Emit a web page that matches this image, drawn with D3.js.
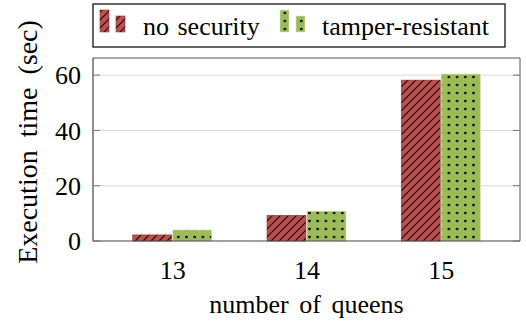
<!DOCTYPE html>
<html>
<head>
<meta charset="utf-8">
<script src="https://cdn.jsdelivr.net/npm/d3@7"></script>
<style>
  html, body { margin: 0; padding: 0; background: #fff; }
</style>
</head>
<body>
<svg id="chart" width="526" height="324"></svg>
<script>
// Execution time per board size, with and without tamper resistance
const queens = [13, 14, 15];
const noSecurity = [2.2, 9.3, 58.2];
const tamperResistant = [4.0, 10.8, 60.4];
const yTicks = [0, 20, 40, 60];
const seriesNames = ["no security", "tamper-resistant"];

const FONT = "'Liberation Serif'";
const FS = 26;
const svg = d3.select("#chart");
const plot = { left: 93, right: 520, top: 58, bottom: 241 };

const x = d3.scaleLinear().domain([12.41, 15.59]).range([plot.left, plot.right]);
const y = d3.scaleLinear().domain([0, 66.2]).range([plot.bottom, plot.top]);
const barW = 39;

// Fill patterns: diagonal hatching for red, dot grid for green
const defs = svg.append("defs");
const hatch = defs.append("pattern")
  .attr("id", "hatch").attr("patternUnits", "userSpaceOnUse")
  .attr("width", 8).attr("height", 8);
hatch.append("rect").attr("width", 8).attr("height", 8).attr("fill", "#c0504d");
hatch.append("path").attr("d", "M-2,10 L10,-2 M-2,2 L2,-2 M6,10 L10,6")
  .attr("stroke", "#000").attr("stroke-width", 1.1);

const dots = defs.append("pattern")
  .attr("id", "dots").attr("patternUnits", "userSpaceOnUse")
  .attr("width", 8.2).attr("height", 8).attr("x", 2).attr("y", 1);
dots.append("rect").attr("width", 8.2).attr("height", 8).attr("fill", "#9bbb59");
dots.append("circle").attr("cx", 4.1).attr("cy", 4).attr("r", 1.3).attr("fill", "#000");

// Horizontal grid lines
svg.append("g").selectAll("line").data(yTicks.filter(d => d > 0)).join("line")
  .attr("x1", plot.left).attr("x2", plot.right)
  .attr("y1", d => y(d)).attr("y2", d => y(d))
  .attr("stroke", "#d9d9d9").attr("stroke-width", 1);

// Bars
const series = [
  { values: noSecurity, fill: "url(#hatch)", stroke: "#8c3a38", offset: -barW / 2 - 0.5 },
  { values: tamperResistant, fill: "url(#dots)", stroke: "#d7e6bd", offset: barW / 2 + 0.5 }
];
series.forEach(s => {
  svg.append("g").selectAll("rect").data(queens).join("rect")
    .attr("x", d => x(d) + s.offset - barW / 2)
    .attr("y", (d, i) => y(s.values[i]))
    .attr("width", barW)
    .attr("height", (d, i) => y(0) - y(s.values[i]))
    .attr("fill", s.fill)
    .attr("stroke", s.stroke).attr("stroke-width", 0.6);
});

// Frame: dark left and bottom, lighter top and right
svg.append("line").attr("x1", plot.left).attr("x2", plot.left)
  .attr("y1", plot.top).attr("y2", plot.bottom).attr("stroke", "#444").attr("stroke-width", 1.2);
svg.append("line").attr("x1", plot.left).attr("x2", plot.right)
  .attr("y1", plot.bottom).attr("y2", plot.bottom).attr("stroke", "#444").attr("stroke-width", 1.2);
svg.append("line").attr("x1", plot.left).attr("x2", plot.right)
  .attr("y1", plot.top).attr("y2", plot.top).attr("stroke", "#555").attr("stroke-width", 1);
svg.append("line").attr("x1", plot.right).attr("x2", plot.right)
  .attr("y1", plot.top).attr("y2", plot.bottom).attr("stroke", "#555").attr("stroke-width", 1);

// Y axis labels
const yAxis = d3.axisLeft(y).tickValues(yTicks).tickSize(0).tickPadding(12);
const yg = svg.append("g").attr("transform", `translate(${plot.left},0)`).call(yAxis);
yg.select(".domain").remove();
yg.selectAll("text").style("font-family", FONT).style("font-size", FS + "px")
  .attr("fill", "#000").attr("dy", "0.34em");
// short tick marks inside on both sides
svg.append("g").selectAll("line").data(yTicks).join("line")
  .attr("x1", plot.left).attr("x2", plot.left + 7)
  .attr("y1", d => y(d)).attr("y2", d => y(d)).attr("stroke", "#777");
svg.append("g").selectAll("line").data(yTicks).join("line")
  .attr("x1", plot.right - 7).attr("x2", plot.right)
  .attr("y1", d => y(d)).attr("y2", d => y(d)).attr("stroke", "#777");

// X axis labels
const xAxis = d3.axisBottom(x).tickValues(queens).tickSize(0).tickPadding(20).tickFormat(d3.format("d"));
const xg = svg.append("g").attr("transform", `translate(0,${plot.bottom})`).call(xAxis);
xg.select(".domain").remove();
xg.selectAll("text").style("font-family", FONT).style("font-size", FS + "px")
  .attr("fill", "#000").attr("dy", "0.71em");

// Axis titles
svg.append("text").attr("x", (plot.left + plot.right) / 2).attr("y", 313)
  .attr("text-anchor", "middle")
  .style("font-family", FONT).style("font-size", FS + "px").style("word-spacing", "4px")
  .text("number of queens");
svg.append("text")
  .attr("transform", "translate(37,142) rotate(-90)")
  .attr("text-anchor", "middle")
  .style("font-family", FONT).style("font-size", "28px").style("word-spacing", "6px")
  .text("Execution time (sec)");

// Legend
const lg = svg.append("g");
lg.append("rect").attr("x", 93).attr("y", 4).attr("width", 412).attr("height", 43)
  .attr("fill", "#fff").attr("stroke", "#000").attr("stroke-width", 1.2);
const legendItems = [
  { name: seriesNames[0], fill: "url(#hatch)", stroke: "#8c3a38", sx: 100, tx: 143 },
  { name: seriesNames[1], fill: "url(#dots)", stroke: "#d7e6bd", sx: 280, tx: 322 }
];
legendItems.forEach(it => {
  lg.append("rect").attr("x", it.sx).attr("y", 10).attr("width", 9).attr("height", 22)
    .attr("fill", it.fill).attr("stroke", it.stroke).attr("stroke-width", 0.6);
  lg.append("rect").attr("x", it.sx + 16).attr("y", 16).attr("width", 9).attr("height", 16)
    .attr("fill", it.fill).attr("stroke", it.stroke).attr("stroke-width", 0.6);
  lg.append("text").attr("x", it.tx).attr("y", 35)
    .style("font-family", FONT).style("font-size", FS + "px").style("word-spacing", "2px")
    .text(it.name);
});
</script>
</body>
</html>
